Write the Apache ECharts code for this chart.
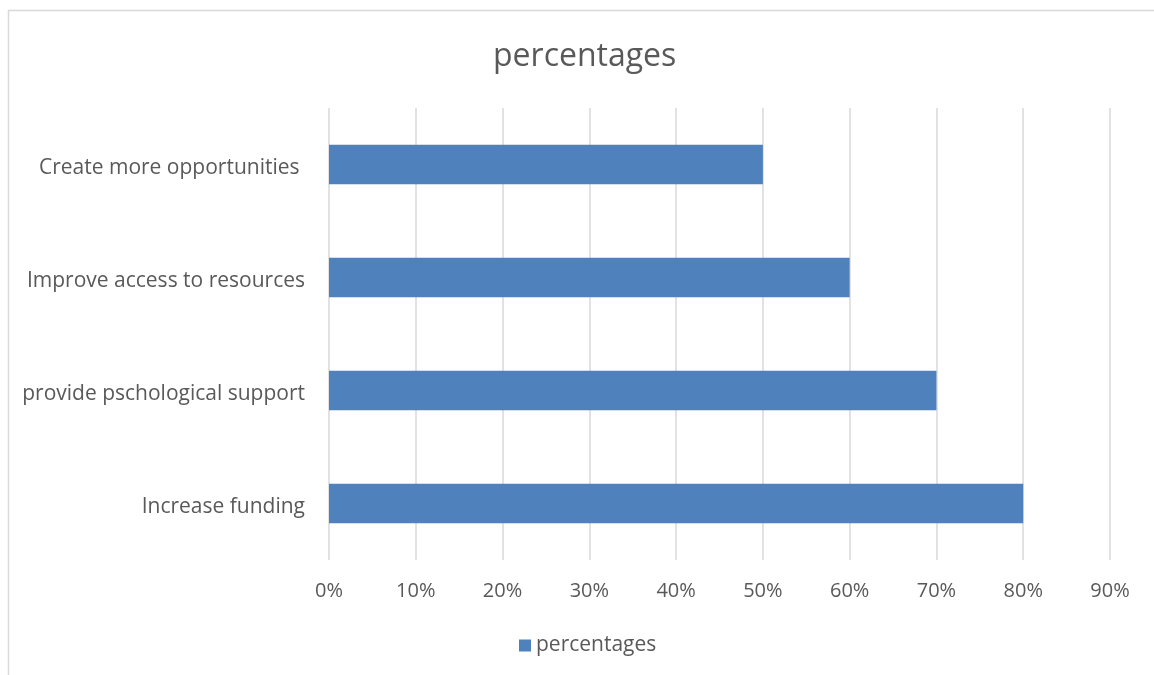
<!DOCTYPE html>
<html>
<head>
<meta charset="utf-8">
<script src="https://cdn.jsdelivr.net/npm/echarts@6/dist/echarts.min.js"></script>
<style>
html,body{margin:0;padding:0;background:#fff;}
#chart{width:1154px;height:675px;}
</style>
</head>
<body>
<div id="chart"></div>
<script>
const categories = ["Increase funding", "provide pschological support", "Improve access to resources", "Create more opportunities "];
const percentages = [80, 70, 60, 50];
const seriesName = "percentages";
const chartTitle = "percentages";

const FONT = "'Open Sans', sans-serif";
const chart = echarts.init(document.getElementById('chart'), null, {renderer: 'canvas'});
chart.setOption({
  animation: false,
  backgroundColor: '#ffffff',
  graphic: [{
    type: 'rect',
    shape: {x: 8.5, y: 10.5, width: 1300, height: 800},
    style: {fill: 'none', stroke: '#d9d9d9', lineWidth: 1.5},
    silent: true, z: -1
  }],
  title: {
    text: chartTitle,
    left: 488,
    top: 36,
    textStyle: {fontFamily: FONT, fontSize: 32, fontWeight: 'normal', color: '#595959'}
  },
  legend: {
    data: [seriesName],
    bottom: 14,
    left: 514,
    icon: 'rect',
    itemWidth: 12,
    itemHeight: 12,
    itemGap: 8,
    textStyle: {fontFamily: FONT, fontSize: 21, color: '#595959'}
  },
  grid: {left: 329, right: 44, top: 108, bottom: 115, containLabel: false},
  xAxis: {
    type: 'value',
    min: 0, max: 90, interval: 10,
    axisLine: {show: false},
    axisTick: {show: false},
    splitLine: {lineStyle: {color: '#d9d9d9', width: 1.5}},
    axisLabel: {formatter: '{value}%', fontFamily: FONT, fontSize: 20, color: '#595959', margin: 21}
  },
  yAxis: {
    type: 'category',
    data: categories,
    axisLine: {show: false},
    axisTick: {show: false},
    axisLabel: {
      formatter: '{a|{value}}',
      margin: 24,
      rich: {a: {fontFamily: FONT, fontSize: 21, color: '#595959', padding: [7, 0, 0, 0]}}
    }
  },
  series: [{
    name: seriesName,
    type: 'bar',
    data: percentages,
    barWidth: '35%',
    itemStyle: {color: '#4f81bd'}
  }]
});
</script>
</body>
</html>
